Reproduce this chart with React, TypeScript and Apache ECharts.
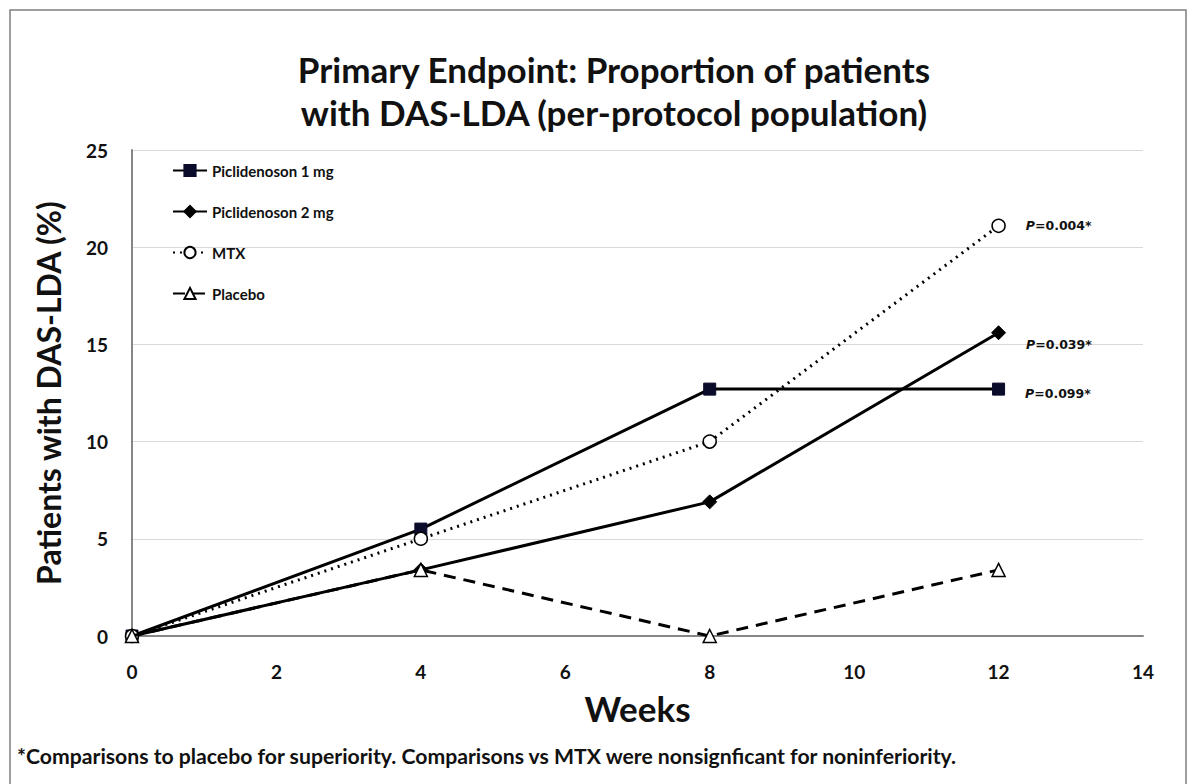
import React, { useEffect, useRef } from "react";
import * as echarts from "echarts";

const weeks = [0, 4, 8, 12];
const pic1mg = [0, 5.5, 12.7, 12.7];
const pic2mg = [0, 3.4, 6.9, 15.6];
const mtx = [0, 5.0, 10.0, 21.1];
const placebo = [0, 3.4, 0, 3.4];
const seriesNames = ["Piclidenoson 1 mg", "Piclidenoson 2 mg", "MTX", "Placebo"];
const pLabels = ["0.099*", "0.039*", "0.004*", ""];
const yTicks = [0, 5, 10, 15, 20, 25];
const xTicks = [0, 2, 4, 6, 8, 10, 12, 14];

const titleLines = ["Primary Endpoint: Proportion of patients", "with DAS-LDA (per-protocol population)"];
const footnote =
  "*Comparisons to placebo for superiority. Comparisons vs MTX were nonsignficant for noninferiority.";

const FONT = "Lato";

function buildData(values: number[], pLabel: string, offsetY: number) {
  return values.map((v, i) => {
    const item: any = { value: [weeks[i], v] };
    if (i === values.length - 1 && pLabel) {
      item.label = {
        show: true,
        position: "right",
        distance: 20,
        offset: [0, offsetY],
        formatter: "{i|P}{b|=" + pLabel + "}",
        rich: {
          i: { fontFamily: "DejaVu Sans", fontWeight: "bold", fontStyle: "italic", fontSize: 12.5, color: "#111" },
          b: { fontFamily: "DejaVu Sans", fontWeight: "bold", fontSize: 12.5, color: "#111" },
        },
      };
    }
    return item;
  });
}

export default function App() {
  const ref = useRef<HTMLDivElement>(null);
  useEffect(() => {
    if (!ref.current) return;
    const chart = echarts.init(ref.current, null, { renderer: "svg" });
    const option: any = {
      animation: false,
      backgroundColor: "#ffffff",
      legend: {
        orient: "vertical",
        left: 167,
        top: 158,
        itemGap: 26,
        itemWidth: 34,
        itemHeight: 14,
        data: seriesNames,
        textStyle: { fontFamily: FONT, fontWeight: "bold", fontSize: 15, color: "#111" },
      },
      grid: { left: 132, right: 53, top: 150, bottom: 148, containLabel: false },
      xAxis: {
        type: "value",
        min: 0,
        max: 14,
        interval: 2,
        name: "Weeks",
        nameLocation: "middle",
        nameGap: 54,
        nameTextStyle: { fontFamily: FONT, fontWeight: "bold", fontSize: 35, color: "#111" },
        axisLine: { show: true, lineStyle: { color: "#868686", width: 2 } },
        axisTick: { show: false },
        splitLine: { show: false },
        axisLabel: {
          fontFamily: FONT,
          fontWeight: "bold",
          fontSize: 19,
          color: "#111",
          margin: 26,
          customValues: xTicks,
        },
      },
      yAxis: {
        type: "value",
        min: 0,
        max: 25,
        interval: 5,
        name: "Patients with DAS-LDA (%)",
        nameLocation: "middle",
        nameGap: 68,
        nameTextStyle: { fontFamily: FONT, fontWeight: "bold", fontSize: 32, color: "#111" },
        axisLine: { show: true, lineStyle: { color: "#868686", width: 2 } },
        axisTick: { show: false },
        splitLine: { show: true, lineStyle: { color: "#d9d9d9", width: 1 } },
        axisLabel: {
          fontFamily: FONT,
          fontWeight: "bold",
          fontSize: 19,
          color: "#111",
          margin: 24,
          customValues: yTicks,
        },
      },
      graphic: [
        {
          type: "rect",
          shape: { x: 10, y: 10, width: 1176, height: 790 },
          style: { fill: "none", stroke: "#7f7f7f", lineWidth: 1.5 },
          silent: true,
        },
        {
          type: "text",
          x: 614,
          y: 69,
          style: {
            text: titleLines[0],
            fontFamily: FONT,
            fontWeight: "bold",
            fontSize: 35,
            fill: "#111",
            align: "center",
            verticalAlign: "middle",
          },
        },
        {
          type: "text",
          x: 614,
          y: 112,
          style: {
            text: titleLines[1],
            fontFamily: FONT,
            fontWeight: "bold",
            fontSize: 35,
            fill: "#111",
            align: "center",
            verticalAlign: "middle",
          },
        },
        {
          type: "text",
          left: 17,
          top: 745,
          style: {
            text: footnote,
            fontFamily: FONT,
            fontWeight: "bold",
            fontSize: 21.2,
            fill: "#111",
          },
        },
      ],
      series: [
        {
          name: seriesNames[0],
          type: "line",
          data: buildData(pic1mg, pLabels[0], 4),
          symbol: "rect",
          symbolSize: 12,
          itemStyle: { color: "#0b0b2a", borderColor: "#0b0b2a", borderWidth: 1 },
          lineStyle: { color: "#000", width: 3, type: "solid" },
          z: 3,
        },
        {
          name: seriesNames[1],
          type: "line",
          data: buildData(pic2mg, pLabels[1], 12),
          symbol: "diamond",
          symbolSize: 14,
          itemStyle: { color: "#000", borderColor: "#000", borderWidth: 1 },
          lineStyle: { color: "#000", width: 3, type: "solid" },
          z: 3,
        },
        {
          name: seriesNames[2],
          type: "line",
          data: buildData(mtx, pLabels[2], 0),
          symbol: "circle",
          symbolSize: 13,
          itemStyle: { color: "#fff", borderColor: "#000", borderWidth: 1.5 },
          lineStyle: { color: "#000", width: 3, type: [2, 5] },
          z: 4,
        },
        {
          name: seriesNames[3],
          type: "line",
          data: buildData(placebo, pLabels[3], 0),
          symbol: "triangle",
          symbolSize: 13,
          itemStyle: { color: "#fff", borderColor: "#000", borderWidth: 1.5 },
          lineStyle: { color: "#000", width: 3, type: [12, 8] },
          z: 5,
        },
      ],
    };
    chart.setOption(option);
    return () => chart.dispose();
  }, []);
  return (
    <div
      ref={ref}
      style={{ position: "fixed", left: 0, top: 0, width: 1196, height: 784, background: "#fff" }}
    />
  );
}
